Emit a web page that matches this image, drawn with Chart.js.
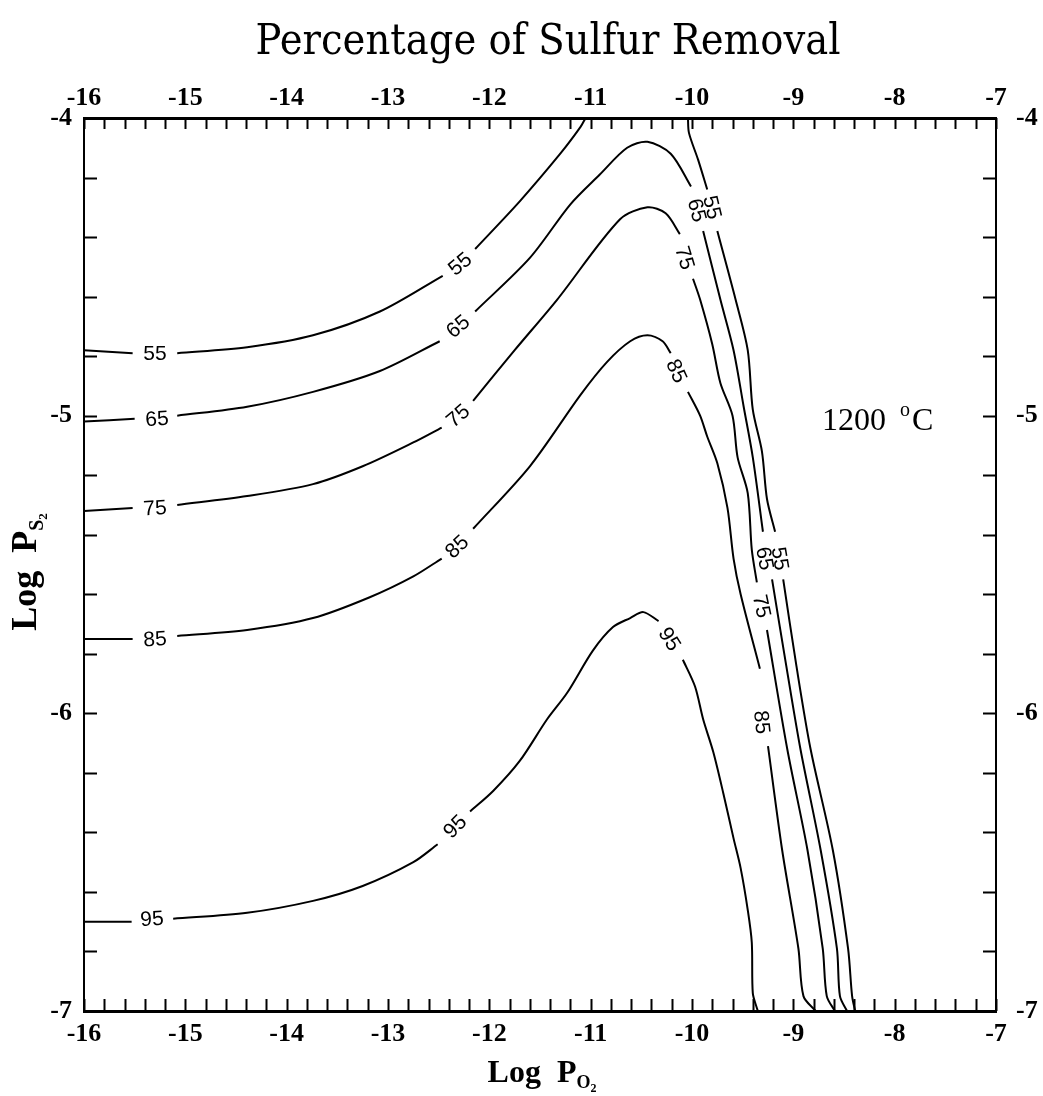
<!DOCTYPE html>
<html>
<head>
<meta charset="utf-8">
<title>Percentage of Sulfur Removal</title>
<script src="https://cdn.jsdelivr.net/npm/chart.js@4/dist/chart.umd.min.js"></script>
<style>
  html, body { margin: 0; padding: 0; background: #fff; }
  #wrap { width: 1043px; height: 1096px; }
</style>
</head>
<body>
<div id="wrap"><canvas id="chart" width="1043" height="1096"></canvas></div>
<script>
// axis ranges (log P_O2 across, log P_S2 up)
const X_MIN = -16, X_MAX = -7;
const Y_MIN = -7, Y_MAX = -4;
const MINOR_STEP = 0.2;

const levels = [55, 65, 75, 85, 95];

// contour pieces; the breaks are where the labels sit
const c55 = [
  [[-16, -4.78], [-15.52, -4.79]],
  [[-15.08, -4.79], [-14.39, -4.77], [-13.74, -4.73], [-13.08, -4.65], [-12.46, -4.53]],
  [[-12.14, -4.44], [-11.70, -4.28], [-11.30, -4.12], [-11.10, -4.03], [-11.05, -4.00]],
  [[-10.04, -4.00], [-10.03, -4.05], [-9.94, -4.14], [-9.85, -4.24]],
  [[-9.75, -4.38], [-9.57, -4.61], [-9.45, -4.78], [-9.40, -4.98], [-9.31, -5.12], [-9.26, -5.28], [-9.18, -5.39]],
  [[-9.10, -5.55], [-8.97, -5.84], [-8.83, -6.12], [-8.61, -6.46], [-8.46, -6.79], [-8.42, -6.95], [-8.39, -7.00]],
];
const c65 = [
  [[-16, -5.02], [-15.50, -5.01]],
  [[-15.08, -5.00], [-14.39, -4.97], [-13.74, -4.92], [-13.08, -4.85], [-12.49, -4.75]],
  [[-12.14, -4.65], [-11.60, -4.47], [-11.20, -4.29], [-10.91, -4.19], [-10.64, -4.10], [-10.44, -4.08], [-10.21, -4.12], [-10.01, -4.23]],
  [[-9.89, -4.38], [-9.72, -4.61], [-9.59, -4.78], [-9.49, -4.97], [-9.40, -5.14], [-9.30, -5.39]],
  [[-9.21, -5.55], [-9.07, -5.84], [-8.93, -6.12], [-8.73, -6.46], [-8.57, -6.79], [-8.54, -6.95], [-8.47, -7.00]],
];
const c75 = [
  [[-16, -5.32], [-15.52, -5.31]],
  [[-15.08, -5.30], [-14.39, -5.27], [-13.74, -5.23], [-13.25, -5.17], [-12.75, -5.09], [-12.47, -5.04]],
  [[-12.16, -4.95], [-11.75, -4.78], [-11.33, -4.61], [-10.71, -4.34], [-10.44, -4.30], [-10.26, -4.32], [-10.12, -4.39]],
  [[-9.99, -4.54], [-9.92, -4.61], [-9.80, -4.76], [-9.72, -4.89], [-9.60, -5.00], [-9.55, -5.14], [-9.45, -5.26], [-9.41, -5.45], [-9.36, -5.56]],
  [[-9.26, -5.72], [-9.06, -6.12], [-8.86, -6.46], [-8.71, -6.79], [-8.67, -6.95], [-8.59, -7.00]],
];
const c85 = [
  [[-16, -5.75], [-15.52, -5.75]],
  [[-15.08, -5.74], [-14.39, -5.72], [-13.74, -5.68], [-13.18, -5.61], [-12.75, -5.54], [-12.47, -5.48]],
  [[-12.16, -5.38], [-11.60, -5.17], [-11.10, -4.93], [-10.84, -4.82], [-10.61, -4.75], [-10.44, -4.73], [-10.29, -4.75], [-10.21, -4.79]],
  [[-10.04, -4.92], [-9.92, -5.00], [-9.85, -5.07], [-9.75, -5.16], [-9.65, -5.31], [-9.59, -5.48], [-9.52, -5.60], [-9.33, -5.85]],
  [[-9.25, -6.11], [-9.11, -6.46], [-8.95, -6.79], [-8.90, -6.95], [-8.78, -7.00]],
];
const c95 = [
  [[-16, -6.70], [-15.53, -6.70]],
  [[-15.12, -6.69], [-14.39, -6.67], [-13.74, -6.63], [-13.25, -6.58], [-12.75, -6.50], [-12.51, -6.44]],
  [[-12.19, -6.33], [-11.96, -6.26], [-11.70, -6.16], [-11.43, -6.02], [-11.23, -5.93], [-10.98, -5.79], [-10.78, -5.71], [-10.61, -5.68], [-10.48, -5.66], [-10.33, -5.69]],
  [[-10.09, -5.82], [-9.97, -5.91], [-9.89, -6.02], [-9.79, -6.13], [-9.69, -6.27], [-9.59, -6.42], [-9.52, -6.52], [-9.45, -6.66], [-9.41, -6.77], [-9.40, -6.94], [-9.36, -6.99], [-9.35, -7.00]],
];

// where the level numbers are written on each contour
const c55Labels = [[-15.30, -4.79], [-12.29, -4.49], [-9.80, -4.30], [-9.13, -5.48]];
const c65Labels = [[-15.28, -5.01], [-12.31, -4.70], [-9.95, -4.31], [-9.28, -5.48]];
const c75Labels = [[-15.30, -5.31], [-12.31, -5.00], [-10.07, -4.47], [-9.31, -5.64]];
const c85Labels = [[-15.30, -5.75], [-12.32, -5.44], [-10.15, -4.85], [-9.31, -6.03]];
const c95Labels = [[-15.33, -6.69], [-12.34, -6.38], [-10.22, -5.75]];

const contours = [c55, c65, c75, c85, c95];
const contourLabels = [c55Labels, c65Labels, c75Labels, c85Labels, c95Labels];

const datasets = [];
contours.forEach((pieces, i) => {
  pieces.forEach((piece) => {
    datasets.push({
      label: String(levels[i]),
      data: piece.map(([x, y]) => ({ x, y })),
      showLine: true,
      borderColor: '#000',
      borderWidth: 2,
      pointRadius: 0,
      tension: 0.3,
      fill: false,
    });
  });
});

const tickFont = { family: '"Liberation Serif", serif', size: 26, weight: 'bold' };

// inward tick marks, contour labels and the texts around the frame
const decorPlugin = {
  id: 'decor',
  afterDatasetsDraw(chart) {
    const { ctx, chartArea: a, scales } = chart;
    const sx = scales.x, sy = scales.y;
    ctx.save();
    ctx.strokeStyle = '#000';
    ctx.lineWidth = 2;
    ctx.beginPath();
    for (let k = 0; k <= Math.round((X_MAX - X_MIN) / MINOR_STEP); k++) {
      const px = Math.round(sx.getPixelForValue(X_MIN + k * MINOR_STEP)) + 0.5;
      ctx.moveTo(px, a.bottom); ctx.lineTo(px, a.bottom - 12);
      ctx.moveTo(px, a.top); ctx.lineTo(px, a.top + 11);
    }
    for (let k = 0; k <= Math.round((Y_MAX - Y_MIN) / MINOR_STEP); k++) {
      const py = Math.round(sy.getPixelForValue(Y_MIN + k * MINOR_STEP)) + 0.5;
      ctx.moveTo(a.left, py); ctx.lineTo(a.left + 13, py);
      ctx.moveTo(a.right, py); ctx.lineTo(a.right - 13, py);
    }
    ctx.stroke();

    // level numbers, turned along the line
    ctx.fillStyle = '#000';
    ctx.font = '21px "Liberation Sans", sans-serif';
    ctx.textAlign = 'center';
    ctx.textBaseline = 'middle';
    contourLabels.forEach((labels, i) => {
      const ends = [];
      contours[i].forEach((piece) => {
        ends.push(piece[0], piece[piece.length - 1]);
      });
      const endPx = ends.map(([x, y]) => [sx.getPixelForValue(x), sy.getPixelForValue(y)]);
      labels.forEach(([lx, ly]) => {
        const px = sx.getPixelForValue(lx);
        const py = sy.getPixelForValue(ly);
        const near = endPx
          .map((p) => ({ p, d: Math.hypot(p[0] - px, p[1] - py) }))
          .sort((m, n) => m.d - n.d)
          .slice(0, 2)
          .map((o) => o.p)
          .sort((m, n) => m[0] - n[0]);
        let ang = Math.atan2(near[1][1] - near[0][1], near[1][0] - near[0][0]);
        if (ang > Math.PI / 2) ang -= Math.PI;
        if (ang < -Math.PI / 2) ang += Math.PI;
        ctx.save();
        ctx.translate(px, py);
        ctx.rotate(ang);
        ctx.fillText(String(levels[i]), 0, 1);
        ctx.restore();
      });
    });
    ctx.restore();
  },
  afterDraw(chart) {
    const { ctx } = chart;
    ctx.save();
    ctx.fillStyle = '#000';
    ctx.textBaseline = 'alphabetic';

    // title, squeezed to the width of the original lettering
    const title = 'Percentage of Sulfur Removal';
    ctx.font = '42px "DejaVu Serif", serif';
    const tw = ctx.measureText(title).width;
    ctx.save();
    ctx.translate(548, 54);
    ctx.scale(585 / tw, 1);
    ctx.textAlign = 'center';
    ctx.fillText(title, 0, 0);
    ctx.restore();

    // temperature note
    ctx.font = '32px "Liberation Serif", serif';
    ctx.textAlign = 'left';
    const tx = 822, ty = 430;
    ctx.fillText('1200', tx, ty);
    const w1200 = ctx.measureText('1200 ').width;
    ctx.font = '20px "Liberation Serif", serif';
    ctx.fillText('o', tx + w1200 + 6, ty - 14);
    ctx.font = '32px "Liberation Serif", serif';
    ctx.fillText('C', tx + w1200 + 18, ty);

    // axis titles with subscripts
    const drawLogP = (sub, cx, cy, rot, size) => {
      ctx.save();
      ctx.translate(cx, cy);
      ctx.rotate(rot);
      const big = 'bold ' + size + 'px "Liberation Serif", serif';
      const mid = 'bold ' + Math.round(size * 0.55) + 'px "Liberation Serif", serif';
      const small = 'bold ' + Math.round(size * 0.36) + 'px "Liberation Serif", serif';
      ctx.font = big; const w0 = ctx.measureText('Log  P').width;
      ctx.font = mid; const w1 = ctx.measureText(sub).width;
      ctx.font = small; const w2 = ctx.measureText('2').width;
      let x = -(w0 + w1 + w2) / 2;
      ctx.textAlign = 'left';
      ctx.font = big; ctx.fillText('Log  P', x, 0); x += w0;
      ctx.font = mid; ctx.fillText(sub, x, size * 0.2); x += w1;
      ctx.font = small; ctx.fillText('2', x, size * 0.3);
      ctx.restore();
    };
    drawLogP('O', 542, 1082, 0, 32);
    drawLogP('S', 36, 572, -Math.PI / 2, 36);
    ctx.restore();
  },
};

new Chart(document.getElementById('chart'), {
  type: 'scatter',
  data: { datasets },
  plugins: [decorPlugin],
  options: {
    responsive: false,
    animation: false,
    layout: { padding: 0 },
    plugins: {
      legend: { display: false },
      title: { display: false },
      tooltip: { enabled: false },
    },
    scales: {
      x: {
        type: 'linear', position: 'bottom', min: X_MIN, max: X_MAX,
        ticks: { stepSize: 1, color: '#000', font: tickFont, padding: 0, maxRotation: 0 },
        grid: { display: false },
        border: { display: true, color: '#000', width: 3 },
        afterFit: (s) => { s.height = 85; },
      },
      x2: {
        type: 'linear', position: 'top', min: X_MIN, max: X_MAX,
        ticks: { stepSize: 1, color: '#000', font: tickFont, padding: -4, maxRotation: 0 },
        grid: { display: false },
        border: { display: true, color: '#000', width: 3 },
        afterFit: (s) => { s.height = 118; },
      },
      y: {
        type: 'linear', position: 'left', min: Y_MIN, max: Y_MAX,
        ticks: { stepSize: 1, color: '#000', font: tickFont, padding: 4 },
        grid: { display: false },
        border: { display: true, color: '#000', width: 2 },
        afterFit: (s) => { s.width = 84; },
      },
      y2: {
        type: 'linear', position: 'right', min: Y_MIN, max: Y_MAX,
        ticks: { stepSize: 1, color: '#000', font: tickFont, padding: 12 },
        grid: { display: false },
        border: { display: true, color: '#000', width: 2 },
        afterFit: (s) => { s.width = 47; },
      },
    },
  },
});
</script>
</body>
</html>
